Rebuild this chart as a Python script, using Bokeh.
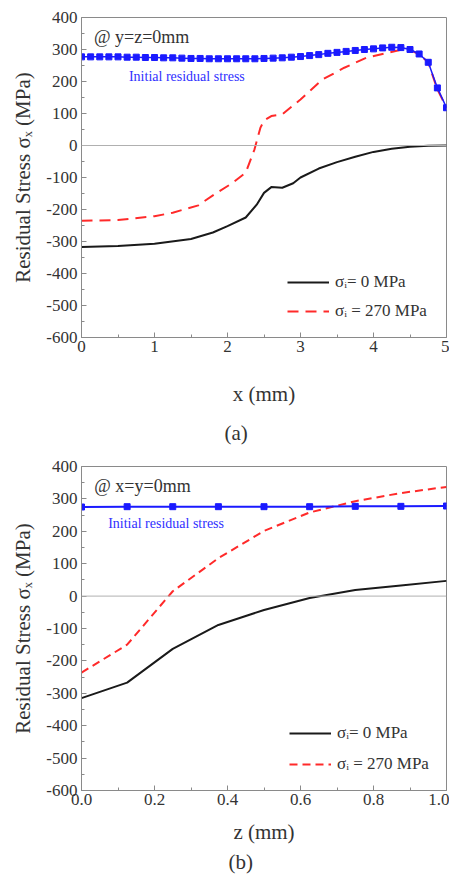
from bokeh.plotting import figure
from bokeh.layouts import column
from bokeh.models import FixedTicker, Span, Label, Legend, LegendItem, Title
from bokeh.embed import file_html
from bokeh.resources import INLINE

# ---------------- data: panel (a) ----------------
a_x_black = [0, 0.5, 1.0, 1.5, 1.8, 2.0, 2.25, 2.4, 2.5, 2.6, 2.75, 2.9, 3.0, 3.25, 3.5, 3.75, 4.0, 4.25, 4.5, 4.75, 5.0]
a_y_black = [-317, -314, -307, -292, -272, -252, -225, -185, -148, -130, -132, -118, -100, -72, -52, -35, -20, -10, -4, -1, 0]

a_x_red = [0, 0.5, 1.0, 1.25, 1.6, 1.85, 2.05, 2.25, 2.37, 2.45, 2.5, 2.6, 2.75, 3.0, 3.3, 3.6, 3.9, 4.2, 4.4, 4.5, 4.62, 4.75, 4.87, 5.0]
a_y_red = [-235, -233, -221, -210, -187, -148, -120, -85, -12, 55, 78, 92, 97, 144, 206, 243, 274, 290, 300, 298, 286, 260, 178, 118]

a_x_blue = [0, 0.125, 0.25, 0.375, 0.5, 0.625, 0.75, 0.875, 1.0, 1.125, 1.25, 1.375, 1.5, 1.625,
            1.75, 1.875, 2.0, 2.125, 2.25, 2.375, 2.5, 2.625, 2.75, 2.875, 3.0, 3.125, 3.25, 3.375,
            3.5, 3.625, 3.75, 3.875, 4.0, 4.125, 4.25, 4.375, 4.5, 4.625, 4.75, 4.875, 5.0]
a_y_blue = [277, 277, 277, 277, 277, 276, 276, 275, 275, 274, 274, 273, 272, 272,
            271, 271, 271, 271, 271, 271, 272, 273, 274, 276, 278, 281, 284, 288,
            291, 294, 297, 300, 302, 305, 307, 306, 300, 286, 260, 180, 118]

a_xticks = [0, 1, 2, 3, 4, 5]
a_xminor = [0.5, 1.5, 2.5, 3.5, 4.5]

# ---------------- data: panel (b) ----------------
b_z = [0, 0.125, 0.25, 0.375, 0.5, 0.625, 0.75, 0.875, 1.0]
b_black = [-315, -267, -163, -89, -43, -6, 19, 33, 47]
b_red = [-236, -150, 15, 117, 201, 258, 293, 318, 337]
b_blue = [275, 276, 276, 276, 276, 276, 277, 277, 278]

b_xticks = [0.0, 0.2, 0.4, 0.6, 0.8, 1.0]
b_xminor = [0.1, 0.3, 0.5, 0.7, 0.9]

y_ticks = [-600, -500, -400, -300, -200, -100, 0, 100, 200, 300, 400]
y_minor = [-550, -450, -350, -250, -150, -50, 50, 150, 250, 350]

SERIF = "Liberation Serif"
GRAY = "#8a8a8a"
BLACK = "#1a1a1a"
RED = "#ff2a2a"
BLUE = "#1a1aff"
TXT = "#333333"


def style(p, xt, xm, fmt_one_decimal=False):
    p.xaxis.ticker = FixedTicker(ticks=xt, minor_ticks=xm)
    p.yaxis.ticker = FixedTicker(ticks=y_ticks, minor_ticks=y_minor)
    p.yaxis.major_label_overrides = {v: str(v) for v in y_ticks}
    if fmt_one_decimal:
        p.xaxis.major_label_overrides = {v: f"{v:.1f}" for v in xt}
    for ax in (p.xaxis[0], p.yaxis[0]):
        ax.axis_line_color = GRAY
        ax.major_tick_line_color = GRAY
        ax.minor_tick_line_color = GRAY
        ax.major_tick_in = 5
        ax.major_tick_out = 0
        ax.minor_tick_in = 3
        ax.minor_tick_out = 0
        ax.major_label_text_font = SERIF
        ax.major_label_text_font_size = "17px"
        ax.major_label_text_color = TXT
        ax.axis_label_text_font = SERIF
        ax.axis_label_text_font_size = "21px"
        ax.axis_label_text_font_style = "normal"
        ax.axis_label_text_color = TXT
    p.xaxis.major_label_standoff = 3
    p.yaxis.major_label_standoff = 4
    p.yaxis.axis_label = "Residual Stress σₓ (MPa)"
    p.yaxis.axis_label_standoff = 8
    p.xgrid.visible = False
    p.ygrid.visible = False
    p.outline_line_color = GRAY
    p.outline_line_width = 1
    p.add_layout(Span(location=0, dimension="width", line_color="#b0b0b0", line_width=1))


def legend(p, r_black, r_red, xoff, spacing):
    lg = Legend(items=[LegendItem(label="σᵢ= 0 MPa", renderers=[r_black]),
                       LegendItem(label="σᵢ = 270 MPa", renderers=[r_red])],
                location=(xoff, 16), border_line_color=None, background_fill_alpha=0,
                padding=0, margin=0, spacing=spacing, glyph_width=42, glyph_height=20,
                label_height=20, label_standoff=6, label_text_font=SERIF,
                label_text_font_size="17px", label_text_color=TXT)
    p.add_layout(lg, "center")


def panel_tag(p, text, offset, standoff):
    p.add_layout(Title(text=text, align="left", offset=offset, text_font=SERIF,
                       text_font_size="21px", text_font_style="normal", text_color=TXT,
                       standoff=standoff), "below")


# ---------------- figure (a) ----------------
pa = figure(width=449, height=458, x_range=(0, 5), y_range=(-600, 400),
            output_backend="svg", toolbar_location=None,
            min_border_left=81, min_border_right=2, min_border_top=17, min_border_bottom=121)
style(pa, a_xticks, a_xminor)
pa.xaxis.axis_label = "x (mm)"
pa.xaxis.axis_label_standoff = 27
rb_a = pa.line(a_x_black, a_y_black, line_color=BLACK, line_width=2)
rr_a = pa.line(a_x_red, a_y_red, line_color=RED, line_width=2, line_dash="11 7")
pa.line(a_x_blue, a_y_blue, line_color=BLUE, line_width=1.5)
pa.scatter(a_x_blue, a_y_blue, marker="square", size=6, fill_color=BLUE, line_color=BLUE)
pa.add_layout(Label(x=0.17, y=340, text="@ y=z=0mm", text_font=SERIF, text_font_size="18px",
                    text_color=TXT, text_baseline="middle"))
pa.add_layout(Label(x=0.65, y=216, text="Initial residual stress", text_font=SERIF,
                    text_font_size="14px", text_color="#3030ff", text_baseline="middle"))
legend(pa, rb_a, rr_a, 206, 9)
panel_tag(pa, "(a)", 143, 20)

# ---------------- figure (b) ----------------
pb = figure(width=449, height=418, x_range=(0, 1), y_range=(-600, 400),
            output_backend="svg", toolbar_location=None,
            min_border_left=77, min_border_right=3, min_border_top=8, min_border_bottom=86)
style(pb, b_xticks, b_xminor, fmt_one_decimal=True)
pb.xaxis.axis_label = "z (mm)"
pb.xaxis.axis_label_standoff = 12
rb_b = pb.line(b_z, b_black, line_color=BLACK, line_width=2)
rr_b = pb.line(b_z, b_red, line_color=RED, line_width=2, line_dash="8 5")
pb.line(b_z, b_blue, line_color=BLUE, line_width=2)
pb.scatter(b_z, b_blue, marker="square", size=6, fill_color=BLUE, line_color=BLUE)
pb.add_layout(Label(x=0.035, y=341, text="@ x=y=0mm", text_font=SERIF, text_font_size="18px",
                    text_color=TXT, text_baseline="middle"))
pb.add_layout(Label(x=0.073, y=223, text="Initial residual stress", text_font=SERIF,
                    text_font_size="14px", text_color="#3030ff", text_baseline="middle"))
legend(pb, rb_b, rr_b, 208, 11)
panel_tag(pb, "(b)", 147, 2)

layout = column(pa, pb, spacing=0)
open("out.html", "w").write(file_html(layout, INLINE))
